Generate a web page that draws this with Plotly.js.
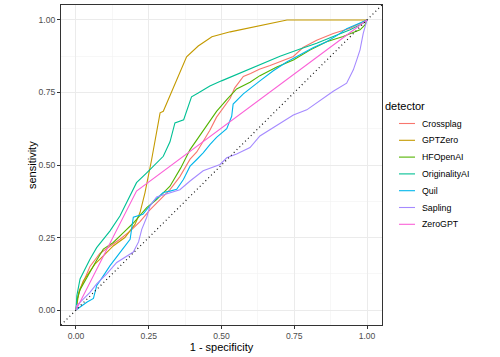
<!DOCTYPE html>
<html>
<head>
<meta charset="utf-8">
<script src="https://cdn.plot.ly/plotly-3.0.1.min.js"></script>
<style>html,body{margin:0;padding:0;background:#fff;}#chart{width:500px;height:357px;}</style>
</head>
<body>
<div id="chart"></div>
<script>
// ---- data ----
const detectors = ["Crossplag", "GPTZero", "HFOpenAI", "OriginalityAI", "Quil", "Sapling", "ZeroGPT"];
const colors = ["#F8766D", "#C49A00", "#53B400", "#00C094", "#00B6EB", "#A58AFF", "#FB61D7"];

const crossplagFpr = [0,0.005,0.012,0.025,0.048,0.082,0.117,0.151,0.186,0.22,0.254,0.289,0.323,0.357,0.392,0.415,0.44,0.46,0.483,0.51,0.53,0.545,0.575,0.6,0.63,0.667,0.7,0.747,0.78,0.827,0.884,0.942,0.987,1];
const crossplagTpr = [0,0.04,0.07,0.096,0.15,0.195,0.22,0.244,0.272,0.305,0.345,0.38,0.415,0.46,0.52,0.545,0.585,0.62,0.665,0.7,0.73,0.765,0.805,0.815,0.83,0.843,0.856,0.874,0.905,0.93,0.953,0.971,0.994,1];

const gptzeroFpr = [0,0.01,0.025,0.042,0.065,0.094,0.128,0.168,0.203,0.22,0.237,0.26,0.289,0.3,0.38,0.42,0.467,0.53,0.598,0.656,0.725,1];
const gptzeroTpr = [0,0.06,0.1,0.124,0.158,0.187,0.221,0.25,0.296,0.336,0.404,0.519,0.68,0.685,0.873,0.91,0.942,0.959,0.973,0.986,1,1];

const hfopenaiFpr = [0,0.005,0.014,0.03,0.048,0.07,0.094,0.128,0.163,0.197,0.243,0.277,0.323,0.36,0.392,0.437,0.483,0.518,0.552,0.598,0.632,0.69,0.747,0.804,0.861,0.918,0.976,0.993,1];
const hfopenaiTpr = [0,0.04,0.07,0.1,0.13,0.17,0.21,0.233,0.267,0.3,0.353,0.381,0.427,0.49,0.553,0.62,0.685,0.725,0.762,0.785,0.808,0.838,0.862,0.896,0.925,0.943,0.966,0.983,1];

const originalityFpr = [0,0.003,0.014,0.03,0.048,0.071,0.094,0.117,0.151,0.186,0.208,0.243,0.266,0.289,0.3,0.323,0.34,0.37,0.386,0.397,0.42,0.46,0.5,0.564,0.632,0.701,0.77,0.827,0.884,0.942,0.987,1];
const originalityTpr = [0,0.05,0.107,0.14,0.175,0.215,0.245,0.273,0.324,0.393,0.439,0.473,0.496,0.52,0.53,0.58,0.645,0.656,0.7,0.735,0.748,0.772,0.79,0.817,0.845,0.875,0.9,0.92,0.943,0.966,0.989,1];

const quilFpr = [0,0.037,0.06,0.071,0.094,0.117,0.151,0.186,0.197,0.23,0.266,0.3,0.323,0.346,0.369,0.392,0.415,0.437,0.46,0.483,0.518,0.535,0.54,0.575,0.632,0.678,0.724,0.77,0.816,0.861,0.896,0.93,0.976,1];
const quilTpr = [0,0.027,0.04,0.084,0.118,0.153,0.198,0.244,0.32,0.33,0.375,0.405,0.41,0.416,0.45,0.496,0.519,0.542,0.57,0.595,0.625,0.668,0.71,0.745,0.79,0.825,0.855,0.88,0.905,0.925,0.946,0.97,0.988,1];

const saplingFpr = [0,0.002,0.025,0.048,0.071,0.105,0.14,0.174,0.197,0.215,0.226,0.243,0.254,0.277,0.323,0.357,0.392,0.437,0.495,0.518,0.552,0.598,0.632,0.667,0.701,0.747,0.793,0.838,0.884,0.93,0.953,0.965,0.976,0.987,1];
const saplingTpr = [0,0.015,0.038,0.061,0.09,0.124,0.164,0.185,0.2,0.235,0.278,0.32,0.358,0.39,0.404,0.415,0.445,0.48,0.502,0.525,0.538,0.56,0.6,0.622,0.643,0.672,0.69,0.722,0.754,0.782,0.828,0.863,0.897,0.954,1];

const zerogptFpr = [0,0.208,1];
const zerogptTpr = [0,0.41,1];

const tickVals = [0, 0.25, 0.5, 0.75, 1];
const tickLabels = ["0.00", "0.25", "0.50", "0.75", "1.00"];
const minorVals = [0.125, 0.375, 0.625, 0.875];

const fprs = [crossplagFpr, gptzeroFpr, hfopenaiFpr, originalityFpr, quilFpr, saplingFpr, zerogptFpr];
const tprs = [crossplagTpr, gptzeroTpr, hfopenaiTpr, originalityTpr, quilTpr, saplingTpr, zerogptTpr];

// ---- chart ----
const font = "Liberation Sans, Arial, Helvetica, sans-serif";
const traces = detectors.map((d, i) => ({
  type: "scatter", mode: "lines", name: d,
  x: fprs[i], y: tprs[i],
  line: {color: colors[i], width: 1.1},
  showlegend: false
}));

const axisCommon = {
  range: [-0.0515, 1.0515],
  tickvals: tickVals, ticktext: tickLabels,
  ticks: "outside", ticklen: 3, tickwidth: 1, tickcolor: "#333333",
  showgrid: true, gridcolor: "#EBEBEB", gridwidth: 1,
  minor: {tickvals: minorVals, showgrid: true, gridcolor: "#F2F2F2", gridwidth: 0.6, ticks: ""},
  showline: true, mirror: true, linecolor: "#333333", linewidth: 1,
  zeroline: false,
  tickfont: {family: font, size: 8.6, color: "#4D4D4D"},
  automargin: false
};

// plot-area pixel geometry -> paper coordinates (for the legend block)
const L = 61, R = 382, T = 5, B = 325;
const px2x = p => (p - L) / (R - L);
const px2y = p => (B - p) / (B - T);

const annotations = [{
  text: "sensitivity", xref: "paper", yref: "paper",
  x: px2x(32), y: 0.5, xanchor: "center", yanchor: "middle",
  textangle: -90, showarrow: false,
  font: {family: font, size: 11, color: "#000"}
}, {
  text: "detector", xref: "paper", yref: "paper",
  x: px2x(383), y: px2y(106), xanchor: "left", yanchor: "middle",
  showarrow: false, font: {family: font, size: 11, color: "#000"}
}];
const shapes = [{
  type: "line", xref: "paper", yref: "paper", x0: 0, y0: 0, x1: 1, y1: 1,
  line: {color: "#111111", width: 1.2, dash: "1px,3px"}, layer: "above"
}];
detectors.forEach((d, i) => {
  const yy = 123.5 + i * 16.8;
  shapes.push({
    type: "line", xref: "paper", yref: "paper",
    x0: px2x(399), x1: px2x(415), y0: px2y(yy), y1: px2y(yy),
    line: {color: colors[i], width: 1.1}
  });
  annotations.push({
    text: d, xref: "paper", yref: "paper",
    x: px2x(420), y: px2y(yy), xanchor: "left", yanchor: "middle",
    showarrow: false, font: {family: font, size: 8.8, color: "#000"}
  });
});

const layout = {
  width: 500, height: 357,
  margin: {l: L, r: 500 - R, t: T, b: 357 - B},
  paper_bgcolor: "#FFFFFF", plot_bgcolor: "#FFFFFF",
  font: {family: font},
  xaxis: Object.assign({}, axisCommon, {
    title: {text: "1 - specificity", font: {family: font, size: 11, color: "#000"}, standoff: 2}
  }),
  yaxis: Object.assign({}, axisCommon, {}),
  annotations: annotations,
  shapes: shapes,
  showlegend: false
};

Plotly.newPlot("chart", traces, layout, {staticPlot: true, displayModeBar: false});
</script>
</body>
</html>
